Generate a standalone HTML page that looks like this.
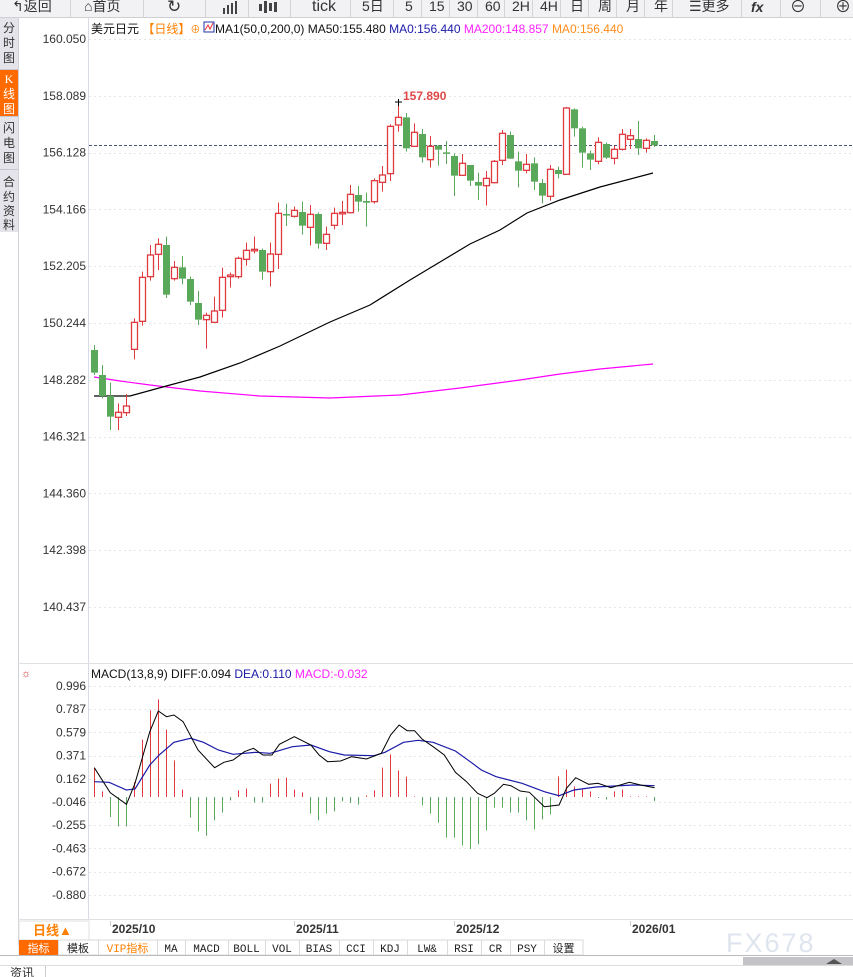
<!DOCTYPE html>
<html><head><meta charset="utf-8"><style>
html,body{margin:0;padding:0;width:853px;height:977px;overflow:hidden;background:#fff;font-family:"Liberation Sans","Noto Sans CJK SC",sans-serif}
svg{display:block}
</style></head><body>
<svg id="s" width="853" height="977" viewBox="0 0 853 977" xmlns="http://www.w3.org/2000/svg" font-family="Liberation Sans, Noto Sans CJK SC, sans-serif">
<rect x="0" y="0" width="853" height="977" fill="#fff"/>
<!-- toolbar -->
<rect x="0" y="0" width="853" height="17" fill="#f2f2f4"/>
<line x1="0" y1="17.5" x2="853" y2="17.5" stroke="#cfcfd4"/>
<g fill="#333" font-size="14">
<text x="12" y="11">↰返回</text><text x="84" y="11">⌂首页</text>
<text x="167" y="12" font-size="17">↻</text>
<text x="312" y="11" font-size="16">tick</text>
<text x="362" y="11">5日</text><text x="405" y="11">5</text><text x="429" y="11">15</text><text x="457" y="11">30</text><text x="485" y="11">60</text><text x="512" y="11">2H</text><text x="540" y="11">4H</text><text x="570" y="11">日</text><text x="598" y="11">周</text><text x="626" y="11">月</text><text x="654" y="11">年</text>
<text x="689" y="11">☰更多</text><text x="751" y="12" font-weight="bold" font-style="italic">fx</text><text x="790" y="12" font-size="16">⊖</text><text x="835" y="12" font-size="16">⊕</text>
</g>
<g fill="#444">
<rect x="223" y="8" width="2" height="6"/><rect x="227" y="5" width="2" height="9"/><rect x="231" y="3" width="2" height="11"/><rect x="235" y="1" width="2" height="13"/>
<rect x="259" y="4" width="3" height="7"/><rect x="264" y="1" width="3" height="12"/><rect x="269" y="3" width="3" height="8"/><rect x="274" y="2" width="3" height="10"/>
</g>
<g stroke="#d4d4d8">
<line x1="70.5" y1="0" x2="70.5" y2="17"/><line x1="143.5" y1="0" x2="143.5" y2="17"/><line x1="205.5" y1="0" x2="205.5" y2="17"/><line x1="248.5" y1="0" x2="248.5" y2="17"/><line x1="290.5" y1="0" x2="290.5" y2="17"/><line x1="350.5" y1="0" x2="350.5" y2="17"/><line x1="393.5" y1="0" x2="393.5" y2="17"/><line x1="421.5" y1="0" x2="421.5" y2="17"/><line x1="449.5" y1="0" x2="449.5" y2="17"/><line x1="477.5" y1="0" x2="477.5" y2="17"/><line x1="504.5" y1="0" x2="504.5" y2="17"/><line x1="532.5" y1="0" x2="532.5" y2="17"/><line x1="560.5" y1="0" x2="560.5" y2="17"/><line x1="588.5" y1="0" x2="588.5" y2="17"/><line x1="616.5" y1="0" x2="616.5" y2="17"/><line x1="644.5" y1="0" x2="644.5" y2="17"/><line x1="672.5" y1="0" x2="672.5" y2="17"/><line x1="741.5" y1="0" x2="741.5" y2="17"/><line x1="780.5" y1="0" x2="780.5" y2="17"/><line x1="820.5" y1="0" x2="820.5" y2="17"/>
</g>
<!-- sidebar -->
<rect x="0" y="18" width="18" height="214" fill="#e4e4ea"/>
<rect x="0" y="70" width="18" height="46" fill="#ff6a00"/>
<line x1="18.5" y1="18" x2="18.5" y2="945" stroke="#d0d0d8"/>
<line x1="0" y1="69.5" x2="18" y2="69.5" stroke="#c8c8d0"/><line x1="0" y1="116.5" x2="18" y2="116.5" stroke="#c8c8d0"/><line x1="0" y1="169.5" x2="18" y2="169.5" stroke="#c8c8d0"/>
<g font-size="12" fill="#333" text-anchor="middle">
<text x="9" y="32">分</text><text x="9" y="47">时</text><text x="9" y="62">图</text>
<text x="9" y="83" fill="#fff" font-family="Liberation Serif, serif">K</text><text x="9" y="98" fill="#fff">线</text><text x="9" y="113" fill="#fff">图</text>
<text x="9" y="132">闪</text><text x="9" y="147">电</text><text x="9" y="162">图</text>
<text x="9" y="186">合</text><text x="9" y="201">约</text><text x="9" y="215">资</text><text x="9" y="229">料</text>
</g>
<!-- header -->
<g font-size="12">
<text x="91" y="33" fill="#111">美元日元 <tspan fill="#ff7f00">【日线】</tspan><tspan fill="#ff7f00" font-size="10">⊕</tspan></text>
<rect x="204" y="22" width="10" height="10" fill="#fff" stroke="#2233aa"/>
<polyline points="205,30 208,25 210,29 213,23" fill="none" stroke="#e33" stroke-width="1"/>
<text x="215" y="33" fill="#111">MA1(50,0,200,0) MA50:155.480 <tspan fill="#1a1aa8">MA0:156.440</tspan> <tspan fill="#ff22ff">MA200:148.857</tspan> <tspan fill="#ff8c1a">MA0:156.440</tspan></text>
</g>
<!-- axis -->
<line x1="88.5" y1="18" x2="88.5" y2="920" stroke="#d6dbe4"/>
<g id="grid" stroke="#e6e6e6" stroke-dasharray="2,3"></g>
<g id="plabels" font-size="12" fill="#333" text-anchor="end"></g>
<line x1="18" y1="663.5" x2="853" y2="663.5" stroke="#e0e0e0"/>
<line x1="89" y1="145.5" x2="853" y2="145.5" stroke="#445577" stroke-dasharray="3,2"/>
<polyline fill="none" stroke="#ff00ff" stroke-width="1.2" points="94,377 120,381 150,385 200,391 260,396 330,398 400,395 460,388 520,380 560,374 600,369 653,364"/>
<polyline fill="none" stroke="#000" stroke-width="1.2" points="94,396 130,396 170,385 200,377 240,363 280,346 330,322 370,305 410,280 440,262 470,244 500,230 527,213 560,200 600,187 653,173"/>
<g id="candles"></g>
<text x="403" y="100" font-size="12" font-weight="bold" fill="#e04848">157.890</text>
<!-- MACD -->
<text x="21" y="677" font-size="11" fill="#c33">☼</text>
<text x="91" y="678" font-size="12" fill="#111">MACD(13,8,9) DIFF:0.094 <tspan fill="#1a1aa8">DEA:0.110</tspan> <tspan fill="#ff22ff">MACD:-0.032</tspan></text>
<g id="mlabels" font-size="12" fill="#333" text-anchor="end"></g>
<g id="hist"></g>
<polyline id="dea" fill="none" stroke="#1a1aa8" stroke-width="1.2"/>
<polyline id="diff" fill="none" stroke="#000" stroke-width="1"/>
<!-- bottom -->
<line x1="18" y1="919.5" x2="853" y2="919.5" stroke="#e0e0e0"/>
<rect x="19" y="921" width="70" height="19" fill="#fff" stroke="#e0e0e0"/>
<text x="33" y="935" font-size="13" fill="#ff7f00" font-weight="bold">日线▲</text>
<g font-size="12" font-weight="bold" fill="#333">
<text x="112" y="933">2025/10</text><text x="296" y="933">2025/11</text><text x="456" y="933">2025/12</text><text x="632" y="933">2026/01</text>
</g>
<g stroke="#ccc"><line x1="110.5" y1="921" x2="110.5" y2="926"/><line x1="294.5" y1="921" x2="294.5" y2="926"/><line x1="454.5" y1="921" x2="454.5" y2="926"/><line x1="630.5" y1="921" x2="630.5" y2="926"/></g>
<text x="726" y="952" font-size="27" fill="#dfe5ee" letter-spacing="2">FX678</text>
<rect x="19" y="940" width="564" height="15" fill="#fff" stroke="#dadada"/>
<rect x="19" y="940" width="39" height="15" fill="#ff6a00"/>
<g id="tabs" font-size="11" font-family="Liberation Mono, Noto Sans CJK SC, monospace" fill="#222" text-anchor="middle"></g>
<line x1="0" y1="955.5" x2="853" y2="955.5" stroke="#bbb"/>
<line x1="0" y1="965.5" x2="853" y2="965.5" stroke="#ddd"/>
<rect x="743" y="957" width="110" height="8" fill="#c4c4c8"/>
<polygon points="826,964 834,959 842,964" fill="#555"/>
<line x1="45.5" y1="966" x2="45.5" y2="977" stroke="#ccc"/>
<text x="10" y="977" font-size="12" fill="#333">资讯</text>
</svg>
<script>
var NS="http://www.w3.org/2000/svg";
function el(t,a,p,txt){var e=document.createElementNS(NS,t);for(var k in a)e.setAttribute(k,a[k]);if(txt!=null)e.textContent=txt;document.getElementById(p).appendChild(e);return e;}
var pl=["160.050","158.089","156.128","154.166","152.205","150.244","148.282","146.321","144.360","142.398","140.437"];
for(var i=0;i<11;i++){var y=39+i*56.8;el("line",{x1:89,y1:Math.round(y)+.5,x2:853,y2:Math.round(y)+.5},"grid");el("text",{x:86,y:y+4},"plabels",pl[i]);}
var ml=["0.996","0.787","0.579","0.371","0.162","-0.046","-0.255","-0.463","-0.672","-0.880"];
for(var i=0;i<10;i++){var y=686+i*23.2;el("line",{x1:89,y1:Math.round(y)+.5,x2:853,y2:Math.round(y)+.5},"grid");el("text",{x:86,y:y+4},"mlabels",ml[i]);}
var A=[["g",780,848,765,855],["g",855,918,825,925],["g",918,980,878,1020],["r",967,982,940,1020],["r",948,968,912,978],["r",697,778,685,808],["r",562,694,545,707],["r",495,560,465,572],["r",463,493,445,540],["g",465,614,440,624],["r",532,566,513,572],["g",532,566,498,583],["g",567,635,560,645],["g",639,689,603,705],["r",676,689,668,776],["r",663,697,620,697],["r",562,661,533,683],["r",555,560,548,593],["r",505,560,500,566],["r",481,508,458,527],["r",478,482,440,490],["g",480,545,476,569],["r",492,545,458,590],["r",370,493,338,537],["g",372,374,341,408],["r",361,379,350,383],["g",366,407,335,434],["r",373,412,345,467],["g",372,461,367,476],["r",433,460,410,480],["r",370,406,353,418],["r",367,371,333,405],["r",313,368,285,370],["g",315,335,288,365],["g",333,338,308,410]];
var B=[["r",287,350,280,356],["r",270,292,243,320],["r",124,266,118,288],["r",97,120,50,140],["g",97,190,84,200],["r",142,184,115,185],["g",147,217,132,233],["r",184,224,153,248],["g",182,194,180,242],["g",202,206,168,237],["g",213,272,205,333],["r",235,271,207,273],["g",240,287,240,303],["g",291,302,263,345],["r",280,302,258,362],["r",229,293,225,295],["r",145,226,135,240],["g",150,221,140,222],["g",229,257,200,307],["r",238,256,207,265],["g",235,290,217,315],["g",294,332,282,355],["r",253,334,240,347],["g",255,267,245,280],["r",69,268,66,270],["g",73,130,70,155],["g",130,203,125,248],["g",205,224,197,255],["r",172,229,157,238],["g",177,218,173,222],["r",193,220,182,238],["r",148,193,132,197],["r",152,163,132,192],["g",162,190,108,210],["r",166,190,160,203],["g",168,181,150,186]];
var C=[];A.forEach(function(c){C.push([c[0],90+c[1]/3,90+c[2]/3,90+c[3]/3,90+c[4]/3]);});
B.forEach(function(c){C.push([c[0],85+c[1]/3,85+c[2]/3,85+c[3]/3,85+c[4]/3]);});
C.forEach(function(c,i){var x=94+8*i,col=c[0]=="r"?"#e0393e":"#5aa85a";
 var h=Math.max(c[2]-c[1],1.5);
 el("line",{x1:x+.5,y1:c[3],x2:x+.5,y2:c[1],stroke:col},"candles");
 el("line",{x1:x+.5,y1:c[1]+h,x2:x+.5,y2:c[4],stroke:col},"candles");
 if(c[0]=="r")el("rect",{x:x-2.5,y:c[1],width:6,height:h,fill:"#fff",stroke:col,"stroke-width":1.3},"candles");
 else el("rect",{x:x-3,y:c[1],width:7,height:h,fill:col},"candles");
});
el("line",{x1:395,y1:102,x2:402,y2:102,stroke:"#000"},"candles");el("line",{x1:398.5,y1:99,x2:398.5,y2:106,stroke:"#000"},"candles");
var H=[88,17,-60,-88,-88,45,172,260,293,202,110,22,-62,-103,-116,-70,-47,-10,20,25,-17,-17,40,55,58,22,14,-50,-70,-50,-43,-13,-18,-23,4,20,88,128,80,61,2,-25,-50,-77,-122,-122,-145,-156,-142,-100,-32,-32,-47,-47,-70,-97,-67,-52,62,82,32,22,17,-3,-8,17,22,2,2,2,-12];
H.forEach(function(v,i){var x=94.5+8*i,b=797;el("line",{x1:x,y1:b,x2:x,y2:b-v/3,stroke:v>=0?"#e0393e":"#5aa85a","stroke-width":1},"hist");});
function pts(a){return a.map(function(p){return (85+p[0]/2.7).toFixed(1)+","+(665+p[1]/3).toFixed(1);}).join(" ");}
document.getElementById("diff").setAttribute("points",pts([[25,308],[68,383],[112,418],[135,355],[175,200],[198,138],[220,155],[240,150],[265,170],[305,255],[350,308],[375,292],[400,285],[430,260],[455,250],[480,270],[505,270],[525,238],[565,215],[610,240],[632,270],[655,290],[690,288],[720,275],[760,282],[800,265],[825,210],[848,180],[870,197],[890,197],[910,222],[940,245],[970,270],[1000,322],[1030,350],[1060,385],[1085,398],[1105,385],[1130,358],[1150,362],[1175,378],[1200,382],[1240,425],[1280,420],[1300,370],[1325,338],[1360,358],[1385,355],[1420,368],[1470,352],[1500,360],[1538,368]]));
document.getElementById("dea").setAttribute("points",pts([[25,350],[65,352],[112,375],[135,372],[175,300],[200,270],[240,232],[285,220],[320,232],[360,255],[400,268],[460,262],[500,265],[560,245],[610,240],[660,260],[700,270],[780,272],[810,262],[860,232],[900,226],[940,232],[1000,258],[1040,290],[1070,315],[1110,335],[1180,355],[1240,380],[1280,392],[1320,375],[1380,366],[1480,360],[1538,362]]));
var T=[["指标",19,58],["模板",58,98],["VIP指标",98,157],["MA",157,185],["MACD",185,228],["BOLL",228,265],["VOL",265,299],["BIAS",299,339],["CCI",339,373],["KDJ",373,407],["LW&",407,447],["RSI",447,481],["CR",481,510],["PSY",510,544],["设置",544,583]];
T.forEach(function(t,i){var a={x:(t[1]+t[2])/2,y:952};if(i==0)a.fill="#fff";if(i==2)a.fill="#ff7f00";el("text",a,"tabs",t[0]);if(i>0)el("line",{x1:t[1]+.5,y1:940,x2:t[1]+.5,y2:955,stroke:"#dadada"},"tabs");});
</script>
</body></html>
